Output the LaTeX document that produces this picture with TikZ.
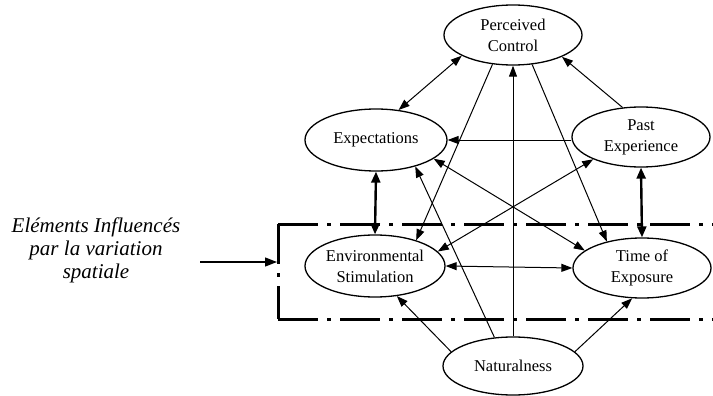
\documentclass[tikz,border=0pt]{standalone}
\usepackage{fontspec}
\setmainfont{Liberation Serif}
\usetikzlibrary{shapes.geometric,arrows.meta}
\tikzset{
  ell/.style={draw, ellipse, line width=1.3pt, inner sep=0pt, align=center,
    font=\fontsize{16.5}{21}\selectfont},
  tip/.tip={Triangle[length=11pt,width=8pt]},
  link/.style={line width=1pt, -tip},
  both/.style={line width=1pt, tip-tip},
  heavy/.style={line width=2.4pt, {Triangle[length=11pt,width=9pt]}-{Triangle[length=11pt,width=9pt]}},
  zone/.style={line width=3pt, dash pattern=on 40pt off 9pt on 4pt off 9pt},
}
\begin{document}
\begin{tikzpicture}[x=1pt,y=-1pt]
\useasboundingbox (0,0) rectangle (713,396);
% nodes
\node[ell, minimum width=138pt, minimum height=60pt] (pc) at (513,35) {Perceived\\Control};
\node[ell, minimum width=142pt, minimum height=62pt] (ex) at (376,140) {Expectations};
\node[ell, minimum width=138pt, minimum height=60pt] (pe) at (641,137) {Past\\Experience};
\node[ell, minimum width=140pt, minimum height=62pt] (es) at (375,266) {Environmental\\Stimulation};
\node[ell, minimum width=138pt, minimum height=60pt] (te) at (642,268) {Time of\\Exposure};
\node[ell, minimum width=140pt, minimum height=58pt] (na) at (513,366) {Naturalness};
% label
\node[align=center, font=\fontsize{21}{23}\selectfont\itshape] (lbl) at (96,250)
  {Eléments Influencés\\par la variation\\spatiale};
\coordinate (lblarr) at (200,262);
\coordinate (boxl) at (277,262);
% zone box
\draw[zone] (278,224) -- (713,224);
\draw[zone] (278,224) -- (278,319);
\draw[zone] (278,319) -- (713,319);
\draw[line width=1.3pt, -{Triangle[length=12pt,width=9pt]}] (lblarr) -- (boxl);
% connectors
\draw[both] (pc.202) -- (ex.53);
\draw[link] (pe.122) -- (pc.336);
\draw[link] (ex.east -| pe.west) -- (ex.east);
\draw[heavy] (ex.south) -- (es.north);
\draw[heavy] (pe.south) -- (te.north);
\draw[link] (pc.235) -- (es.32);
\draw[link] (pc.303) -- (te.143);
\draw[link] (na.north) -- (pc.south);
\draw[link] (na.123) -- (ex.326);
\draw[both] (ex.342) -- (te.163);
\draw[both] (pe.205) -- (es.13);
\draw[both] (es.east) -- (te.west);
\draw[link] (na.167) -- (es.306);
\draw[link] (na.13) -- (te.252);
\end{tikzpicture}
\end{document}
